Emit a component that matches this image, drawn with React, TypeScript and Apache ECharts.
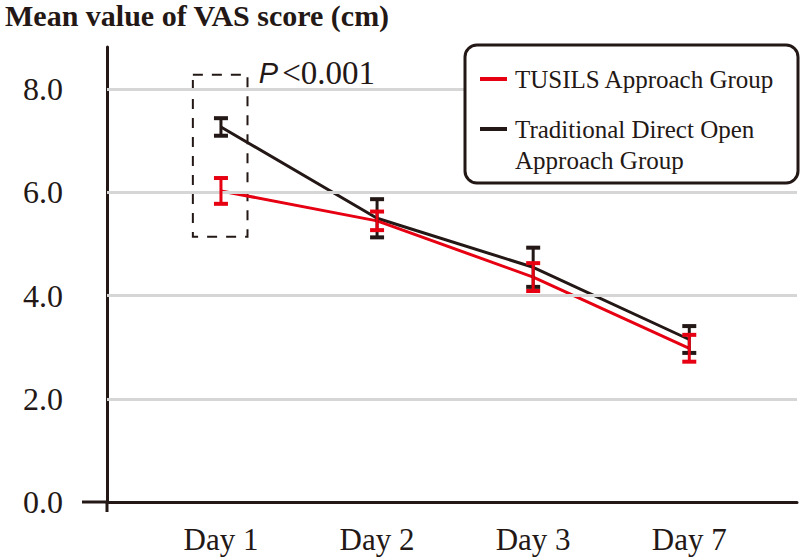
import React, { useEffect, useRef } from "react";
import * as echarts from "echarts";

const days = ["Day 1", "Day 2", "Day 3", "Day 7"];
const dayPos = [1, 2, 3, 4];
const tusilsMean = [6.03, 5.45, 4.36, 2.98];
const tusilsSD = [0.25, 0.18, 0.27, 0.26];
const tradMean = [7.27, 5.5, 4.55, 3.15];
const tradSD = [0.17, 0.37, 0.38, 0.26];
const yTicks = [0, 2, 4, 6, 8];
const gridValues = [2, 4, 6, 8];
const seriesNames = ["TUSILS Approach Group", "Traditional Direct Open Approach Group"];
const legendLines = [["TUSILS Approach Group"], ["Traditional Direct Open", "Approach Group"]];
const titleText = "Mean value of VAS score (cm)";
const pText = "<0.001";
// highlighted region (Day 1 comparison)
const boxX = [0.82, 1.17];
const boxY = [5.14, 8.28];

const RED = "#e60012";
const BLACK = "#231815";
const SERIF = "'Liberation Serif', 'Times New Roman', serif";

const GRID = { left: 107, right: 3, top: 47, bottom: 58 };
const W = 800;
const H = 560;

function errorBars(color: string, means: number[], sds: number[], z: number) {
  return {
    type: "custom",
    z,
    silent: true,
    data: dayPos.map((x, i) => [x, means[i] - sds[i], means[i] + sds[i]]),
    renderItem: (_params: any, api: any) => {
      const x = api.value(0);
      const lo = api.coord([x, api.value(1)]);
      const hi = api.coord([x, api.value(2)]);
      const hw = 7;
      return {
        type: "group",
        children: [
          { type: "line", shape: { x1: lo[0], y1: lo[1], x2: hi[0], y2: hi[1] }, style: { stroke: color, lineWidth: 3 } },
          { type: "line", shape: { x1: hi[0] - hw, y1: hi[1], x2: hi[0] + hw, y2: hi[1] }, style: { stroke: color, lineWidth: 4 } },
          { type: "line", shape: { x1: lo[0] - hw, y1: lo[1], x2: lo[0] + hw, y2: lo[1] }, style: { stroke: color, lineWidth: 4 } },
        ],
      };
    },
  };
}

export default function App() {
  const ref = useRef<HTMLDivElement>(null);
  useEffect(() => {
    if (!ref.current) return;
    const chart = echarts.init(ref.current, null, { renderer: "svg" });
    const axisY = H - GRID.bottom;
    const lx = 465, ly = 45, lw = 333, lh = 138;
    const LZ = 100;
    chart.setOption({
      animation: false,
      backgroundColor: "#ffffff",
      title: {
        text: titleText,
        left: 5,
        top: 0,
        padding: 0,
        textStyle: { fontFamily: SERIF, fontWeight: "bold", fontSize: 30, color: BLACK },
      },
      grid: { ...GRID },
      xAxis: {
        type: "value",
        min: 0.27,
        max: 4.69,
        axisLine: { show: true, lineStyle: { color: BLACK, width: 3 } },
        axisTick: { show: false },
        splitLine: { show: false },
        axisLabel: {
          customValues: dayPos,
          formatter: (v: number) => days[dayPos.indexOf(v)] ?? "",
          fontFamily: SERIF,
          fontSize: 31,
          color: BLACK,
          margin: 22,
        },
      },
      yAxis: {
        type: "value",
        min: 0,
        max: 8.82,
        axisLine: { show: true, lineStyle: { color: BLACK, width: 3 } },
        axisTick: { show: false },
        splitLine: { show: false },
        axisLabel: {
          customValues: yTicks,
          formatter: (v: number) => v.toFixed(1),
          fontFamily: SERIF,
          fontSize: 32,
          color: BLACK,
          margin: 44,
        },
      },
      series: [
        {
          type: "line",
          name: "grid",
          data: [],
          z: 1,
          silent: true,
          markLine: {
            silent: true,
            symbol: "none",
            label: { show: false },
            lineStyle: { type: "solid", color: "#d6d6d6", width: 3 },
            data: gridValues.map((v) => ({ yAxis: v })),
          },
          markArea: {
            silent: true,
            itemStyle: { color: "rgba(0,0,0,0)", borderColor: BLACK, borderWidth: 2, borderType: [10, 9] },
            label: {
              show: true,
              position: [67, -1],
              align: "left",
              verticalAlign: "middle",
              formatter: "{p|P}{t|" + pText + "}",
              rich: {
                p: { fontFamily: "'Liberation Sans', Arial, sans-serif", fontStyle: "italic", fontSize: 29, color: BLACK, padding: [0, 4, 0, 0] },
                t: { fontFamily: SERIF, fontSize: 33, color: BLACK },
              },
            },
            data: [[{ xAxis: boxX[0], yAxis: boxY[1] }, { xAxis: boxX[1], yAxis: boxY[0] }]],
          },
        },
        {
          type: "line",
          name: seriesNames[1],
          z: 2,
          symbol: "none",
          lineStyle: { color: BLACK, width: 3 },
          data: dayPos.map((x, i) => [x, tradMean[i]]),
        },
        {
          type: "line",
          name: seriesNames[0],
          z: 3,
          symbol: "none",
          lineStyle: { color: RED, width: 3 },
          data: dayPos.map((x, i) => [x, tusilsMean[i]]),
        },
        errorBars(BLACK, tradMean, tradSD, 4),
        errorBars(RED, tusilsMean, tusilsSD, 5),
      ],
      graphic: [
        { type: "line", z: 10, shape: { x1: 82, y1: axisY, x2: GRID.left, y2: axisY }, style: { stroke: BLACK, lineWidth: 3 } },
        { type: "line", z: 10, shape: { x1: GRID.left, y1: axisY, x2: GRID.left, y2: axisY + 10 }, style: { stroke: BLACK, lineWidth: 3 } },
        { type: "rect", z: LZ, shape: { x: lx, y: ly, width: lw, height: lh, r: 12 }, style: { fill: "#fff", stroke: BLACK, lineWidth: 3 } },
        { type: "line", z: LZ + 1, shape: { x1: lx + 15, y1: ly + 34, x2: lx + 42, y2: ly + 34 }, style: { stroke: RED, lineWidth: 4 } },
        { type: "text", z: LZ + 1, x: lx + 50, y: ly + 34, style: { text: legendLines[0][0], fontFamily: SERIF, fontSize: 25, fill: BLACK, verticalAlign: "middle" } },
        { type: "line", z: LZ + 1, shape: { x1: lx + 15, y1: ly + 84, x2: lx + 42, y2: ly + 84 }, style: { stroke: BLACK, lineWidth: 4 } },
        { type: "text", z: LZ + 1, x: lx + 50, y: ly + 84, style: { text: legendLines[1][0], fontFamily: SERIF, fontSize: 25, fill: BLACK, verticalAlign: "middle" } },
        { type: "text", z: LZ + 1, x: lx + 50, y: ly + 115, style: { text: legendLines[1][1], fontFamily: SERIF, fontSize: 25, fill: BLACK, verticalAlign: "middle" } },
      ],
    });
    return () => chart.dispose();
  }, []);
  return <div ref={ref} style={{ position: "fixed", left: 0, top: 0, width: W, height: H }} />;
}
